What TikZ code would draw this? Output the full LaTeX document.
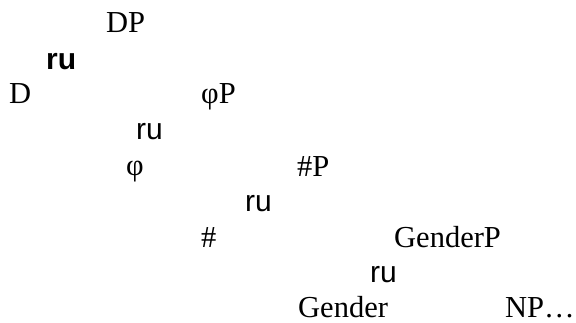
\documentclass[tikz,border=0pt]{standalone}
\usepackage{fontspec}
\setmainfont{Liberation Serif}
\newfontfamily\branchfont{Liberation Sans}
\begin{document}
\begin{tikzpicture}[x=1pt,y=-1pt,
  lbl/.style={anchor=base west,inner sep=0pt,text depth=0pt,font=\fontsize{30.5}{36}\selectfont},
  brn/.style={anchor=base west,inner sep=0pt,text depth=0pt,font=\branchfont\fontsize{30}{36}\selectfont},
  brnb/.style={brn,font=\branchfont\bfseries\fontsize{30}{36}\selectfont}]
\useasboundingbox (0,0) rectangle (576,323);
\node[lbl] (dp) at (106,33) {DP};
\node[brnb] (b1) at (46,70) {ru};
\node[lbl] (d) at (9,104) {D};
\node[lbl] (phip) at (201,104) {φP};
\node[brn] (b2) at (136,140) {ru};
\node[lbl] (phi) at (126,176) {φ};
\node[lbl] (nump) at (297,177) {\#P};
\node[brn] (b3) at (245,212) {ru};
\node[lbl] (num) at (201,248) {\#};
\node[lbl] (genp) at (394,248) {GenderP};
\node[brn] (b4) at (370,283) {ru};
\node[lbl] (gen) at (298,318) {Gender};
\node[lbl] (np) at (505,318) {NP…};
\end{tikzpicture}
\end{document}
